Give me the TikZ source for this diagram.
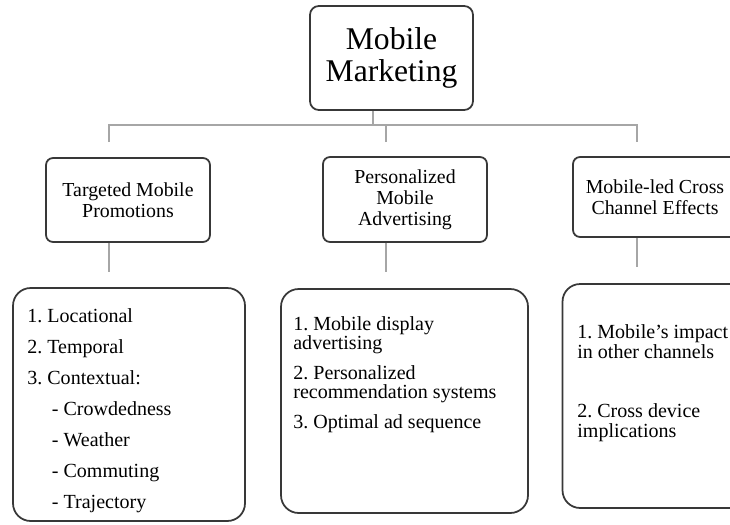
\documentclass[tikz,border=0pt]{standalone}
\usepackage{fontspec}
\setmainfont{Liberation Serif}
\frenchspacing
\usetikzlibrary{positioning}

\tikzset{
  box/.style={draw=black!78, line width=1pt, fill=white, inner sep=0pt, align=center},
  headbox/.style={box, rounded corners=5pt, minimum width=3.26cm, minimum height=2.08cm,
    font=\fontsize{18}{18.7}\selectfont},
  subbox/.style={box, rounded corners=4pt, minimum width=3.28cm,
    font=\fontsize{11.3}{12}\selectfont},
  listbox/.style={box, rounded corners=10pt, minimum width=4.94cm, minimum height=4.48cm},
  listtext/.style={anchor=base west, inner sep=0pt, align=left},
  link/.style={draw=black!35, line width=0.8pt}
}

\begin{document}
\begin{tikzpicture}[x=0.02cm, y=-0.02cm]
  \useasboundingbox (0,0) rectangle (730,524);
  \clip (0,0) rectangle (730,524);

  % top of the tree
  \node[headbox] (mm) at (391.5,58) {Mobile\\Marketing};

  % second level
  \node[subbox, minimum height=1.68cm] (tmp) at (128,200) {Targeted Mobile\\Promotions};
  \node[subbox, minimum height=1.70cm] (pma) at (405,199.5) {Personalized\\Mobile\\Advertising};
  \node[subbox, minimum height=1.60cm] (mlc) at (655,197) {Mobile-led Cross\\Channel Effects};

  % detail boxes (text anchored on the baseline of the last line)
  \node[listbox, minimum width=4.64cm, minimum height=4.66cm] (tmplist) at (129,404.5) {};
  \node[listbox] (pmalist) at (404.5,401) {};
  \node[listbox] (mlclist) at (686,396) {};

  \node[listtext, font=\fontsize{11.4}{17.6}\selectfont] (tmpitems) at (27,508)
    {1. Locational\\2. Temporal\\3. Contextual:\\
     \hspace*{14pt}- Crowdedness\\\hspace*{14pt}- Weather\\
     \hspace*{14pt}- Commuting\\\hspace*{14pt}- Trajectory};
  \node[listtext, font=\fontsize{11.4}{10.8}\selectfont] (pmaitems) at (293,428)
    {1. Mobile display\\advertising\\[6.2pt]2. Personalized\\
     recommendation systems\\[6.2pt]3. Optimal ad sequence};
  \node[listtext, font=\fontsize{11.4}{11.3}\selectfont] (mlcitems) at (577,437)
    {1. Mobile’s impact\\in other channels\\[22pt]2. Cross device\\implications};

  % connectors
  \coordinate (mmdrop) at (373,125);
  \coordinate (tmpin) at (109,142);
  \coordinate (pmain) at (386,142);
  \coordinate (mlcin) at (637,142);
  \coordinate (tmpout) at (109,272);
  \coordinate (pmaout) at (386,272);
  \coordinate (mlcout) at (637,267);

  \draw[link] (mm.south -| mmdrop) -- (mmdrop);
  \draw[link] (tmpin) |- (mlcin |- mmdrop) -- (mlcin);
  \draw[link] (pmain) -- (pmain |- mmdrop);
  \draw[link] (tmp.south -| tmpout) -- (tmpout);
  \draw[link] (pma.south -| pmaout) -- (pmaout);
  \draw[link] (mlc.south -| mlcout) -- (mlcout);
\end{tikzpicture}
\end{document}
